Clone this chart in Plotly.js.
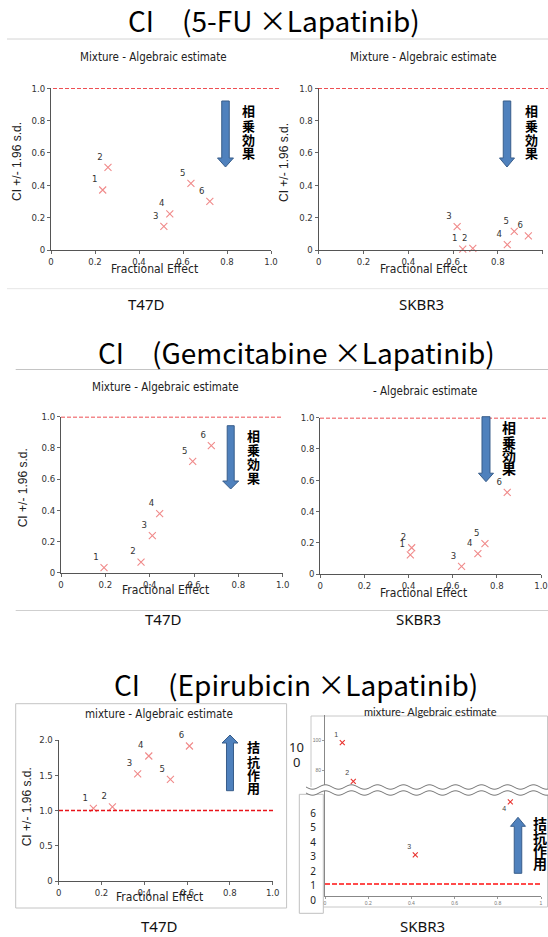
<!DOCTYPE html>
<html><head><meta charset="utf-8">
<script src="https://cdn.plot.ly/plotly-3.0.1.min.js"></script>
<style>html,body{margin:0;padding:0;background:#fff}#chart{width:548px;height:937px}</style>
</head><body><div id="chart"></div>
<script>
// ---------------- data ----------------
const pointLabels = ['1','2','3','4','5','6'];
// 5-FU x Lapatinib
const fuT47D_fa  = [0.235,0.259,0.513,0.540,0.636,0.722];
const fuT47D_ci  = [0.371,0.511,0.146,0.223,0.412,0.301];
const fuSKBR3_fa = [0.643,0.688,0.618,0.842,0.873,0.936];
const fuSKBR3_ci = [0.006,0.010,0.144,0.033,0.115,0.087];
// Gemcitabine x Lapatinib
const gemT47D_fa  = [0.194,0.361,0.412,0.445,0.594,0.678];
const gemT47D_ci  = [0.032,0.068,0.237,0.378,0.714,0.814];
const gemSKBR3_fa = [0.408,0.414,0.640,0.714,0.746,0.847];
const gemSKBR3_ci = [0.122,0.168,0.049,0.130,0.194,0.522];
// Epirubicin x Lapatinib
const epiT47D_fa  = [0.162,0.251,0.369,0.421,0.522,0.611];
const epiT47D_ci  = [1.031,1.050,1.518,1.773,1.442,1.915];
const epiSKBR3_fa = [0.080,0.131,0.418,0.858];
const epiSKBR3_ci = [98.7,72.9,3.0,6.66];
const epiSKBR3_lbl = ['1','2','3','4'];

const faTicks = [0,0.2,0.4,0.6,0.8,1.0];
const faTickText = ['0','0.2','0.4','0.6','0.8','1.0'];
const faTickTextSK = ['0','0.2','0.4','0.6','0.8','1'];
const ciTicks = [0,0.2,0.4,0.6,0.8,1.0];
const ciTickText = ['0','0.2','0.4','0.6','0.8','1.0'];
const ciTicksEpi = [0,0.5,1.0,1.5,2.0];
const ciTickTextEpi = ['0','0.5','1.0','1.5','2.0'];
const upperTicks = [80,100];
const upperTickText = ['80','100'];
const lowerTicks = [0,1,2,3,4,5,6];
const lowerTickText = ['0','1','2','3','4','5','6'];
const brokenLabel = ['10','0'];
const ciThreshold = 1.0;

const drugTitles = ['CI\u3000(5-FU \u00d7Lapatinib)','CI\u3000(Gemcitabine \u00d7Lapatinib)','CI\u3000(Epirubicin \u00d7Lapatinib)'];
const cellLines = ['T47D','SKBR3'];
const panelTitles = ['Mixture - Algebraic estimate','Mixture - Algebraic estimate','Mixture - Algebraic estimate','- Algebraic estimate','mixture - Algebraic estimate','mixture- Algebraic estimate'];
const xTitle = 'Fractional Effect';
const yTitle = 'CI +/- 1.96 s.d.';
const synergyText = ['相','乗','効','果'];
const antagText = ['拮','抗','作','用'];

// ---------------- helpers ----------------
const W = 548, H = 937;
const px = v => v / W;
const py = v => 1 - v / H;
const NARROW = 'Liberation Sans Narrow, Arial Narrow, DejaVu Sans Condensed, Liberation Sans, Arial, sans-serif';
const ARIAL = 'Liberation Sans, Arial, sans-serif';
const JP = 'Noto Sans CJK JP, sans-serif';
const PINK = '#f08a8a';

const layout = {
  width: W, height: H, margin: {l:0, r:0, t:0, b:0},
  paper_bgcolor: '#fff', plot_bgcolor: 'rgba(0,0,0,0)',
  showlegend: false, annotations: [], shapes: []
};
const data = [];

function baseAxis(extra) {
  return Object.assign({
    showgrid: false, zeroline: false, showline: true, linecolor: '#555', linewidth: 1,
    ticks: 'outside', ticklen: 3, tickcolor: '#666', tickwidth: 1,
    tickfont: {family: NARROW, size: 9.5, color: '#333'}, fixedrange: true
  }, extra);
}
function ann(text, x, y, opts) {
  layout.annotations.push(Object.assign({
    text: text, x: px(x), y: py(y), xref: 'paper', yref: 'paper',
    showarrow: false, xanchor: 'center', yanchor: 'middle', borderpad: 0
  }, opts));
}
function line(x0, y0, x1, y1, color, width, extra) {
  layout.shapes.push(Object.assign({type: 'line', xref: 'paper', yref: 'paper',
    x0: px(x0), y0: py(y0), x1: px(x1), y1: py(y1),
    line: {color: color, width: width || 1}}, extra));
}
function pathOf(pts) {
  return 'M' + pts.map(p => px(p[0]).toFixed(5) + ',' + py(p[1]).toFixed(5)).join('L') + 'Z';
}
function blockArrow(cx, tip, tail, bw, hw, hh) {
  const d = tail > tip ? 1 : -1;
  const hb = tip + d * hh;
  const pts = [[cx - bw/2, tail], [cx - bw/2, hb], [cx - hw/2, hb], [cx, tip], [cx + hw/2, hb], [cx + bw/2, hb], [cx + bw/2, tail]];
  layout.shapes.push({type: 'path', xref: 'paper', yref: 'paper', path: pathOf(pts),
    fillcolor: '#4f81bd', line: {color: '#385d8a', width: 1}, layer: 'above'});
}
function vertText(chars, x, ys, size) {
  chars.forEach((c, i) => ann('<b>' + c + '</b>', x, ys[i], {font: {family: JP, size: size, color: '#000'}}));
}

// ---------------- standard panels ----------------
const panels = [
  {n: 1, fa: fuT47D_fa, ci: fuT47D_ci, xd: [51, 271], yd: [88.3, 250], yr: [0, 1], yt: ciTicks, ytt: ciTickText,
   title: [153, 57.3], xt: [154, 269.3], yti: [17, 162], dash: [53, 280]},
  {n: 2, fa: fuSKBR3_fa, ci: fuSKBR3_ci, xd: [318.7, 542.7], yd: [88.3, 250], yr: [0, 1], yt: ciTicks, ytt: ciTickText,
   title: [423.3, 57.3], xt: [423.7, 269.3], yti: [284, 163], dash: [318, 548]},
  {n: 3, fa: gemT47D_fa, ci: gemT47D_ci, xd: [61, 282.7], yd: [416.7, 572.7], yr: [0, 1], yt: ciTicks, ytt: ciTickText,
   title: [165, 387.3], xt: [165, 590], yti: [23.3, 488], dash: [61, 282]},
  {n: 4, fa: gemSKBR3_fa, ci: gemSKBR3_ci, xd: [320.3, 541], yd: [417.7, 574], yr: [0, 1], yt: ciTicks, ytt: ciTickText,
   title: [425, 390.7], xt: [423.5, 592.7], yti: null, dash: [320, 548]},
  {n: 5, fa: epiT47D_fa, ci: epiT47D_ci, xd: [58.7, 272.7], yd: [740, 881], yr: [0, 2], yt: ciTicksEpi, ytt: ciTickTextEpi,
   title: [159.2, 714.3], xt: [159.5, 897.3], yti: [27.3, 807], dash: [59, 275]}
];

panels.forEach(p => {
  const xs = 'x' + p.n, ys = 'y' + p.n;
  layout['xaxis' + p.n] = baseAxis({domain: [px(p.xd[0]), px(p.xd[1])], anchor: ys, range: [0, 1],
    tickmode: 'array', tickvals: faTicks, ticktext: faTickText});
  layout['yaxis' + p.n] = baseAxis({domain: [py(p.yd[1]), py(p.yd[0])], anchor: xs, range: p.yr,
    tickmode: 'array', tickvals: p.yt, ticktext: p.ytt});
  data.push({type: 'scatter', mode: 'markers+text', x: p.fa, y: p.ci, text: pointLabels,
    xaxis: xs, yaxis: ys, textposition: 'top left', cliponaxis: false, hoverinfo: 'skip',
    textfont: {family: NARROW, size: 9.5, color: '#333'},
    marker: {symbol: 'x-thin', size: 7, color: PINK, line: {color: PINK, width: 1.1}}});
  layout.shapes.push({type: 'line', xref: 'paper', yref: ys, x0: px(p.dash[0]), x1: px(p.dash[1]),
    y0: ciThreshold, y1: ciThreshold, line: {color: '#e8141a', width: 1.6, dash: '4px,2px'}});
  ann(panelTitles[p.n - 1], p.title[0], p.title[1], {font: {family: NARROW, size: 11.5, color: '#222'}});
  ann(xTitle, p.xt[0], p.xt[1], {font: {family: NARROW, size: 12, color: '#222'}});
  if (p.yti) ann(yTitle, p.yti[0], p.yti[1], {textangle: -90, font: {family: ARIAL, size: 12, color: '#222'}});
});

// ---------------- broken-axis panel (SKBR3, Epirubicin) ----------------
const breakY = 790;
layout.xaxis6 = baseAxis({domain: [px(325), px(541)], anchor: 'y6', range: [0, 1], tickmode: 'array',
  tickvals: faTicks, ticktext: faTickTextSK, linecolor: '#888', ticklen: 2, tickcolor: '#999',
  tickfont: {family: ARIAL, size: 5, color: '#777'}});
layout.yaxis6 = baseAxis({domain: [py(896), py(breakY)], anchor: 'x6', range: [0.17, 7.48],
  showticklabels: false, ticks: '', linecolor: '#888'});
layout.yaxis7 = baseAxis({domain: [py(breakY), py(715)], anchor: 'x6', range: [67.1, 117.1], tickmode: 'array',
  tickvals: upperTicks, ticktext: upperTickText, linecolor: '#888', ticklen: 2, tickcolor: '#999',
  tickfont: {family: ARIAL, size: 5, color: '#777'}});
layout.xaxis7 = {domain: [px(317), px(330)], anchor: 'y8', visible: false, range: [0, 1], fixedrange: true};
layout.yaxis8 = {domain: [py(912), py(803)], anchor: 'x7', range: [-0.83, 6.71], showline: false, showgrid: false,
  zeroline: false, ticks: '', tickmode: 'array', tickvals: lowerTicks, ticktext: lowerTickText,
  tickfont: {family: 'Noto Sans, sans-serif', size: 10, color: '#222'}, fixedrange: true};

const upIdx = [], loIdx = [];
epiSKBR3_ci.forEach((v, i) => (v >= 50 ? upIdx : loIdx).push(i));
const pick = (arr, idx) => idx.map(i => arr[i]);
const skMarker = {symbol: 'x-thin', size: 5, color: '#e8322e', line: {color: '#e8322e', width: 1.1}};
data.push({type: 'scatter', mode: 'markers+text', xaxis: 'x6', yaxis: 'y7',
  x: pick(epiSKBR3_fa, upIdx), y: pick(epiSKBR3_ci, upIdx), text: pick(epiSKBR3_lbl, upIdx),
  textposition: 'top left', cliponaxis: false, hoverinfo: 'skip',
  textfont: {family: ARIAL, size: 7, color: '#444'}, marker: skMarker});
data.push({type: 'scatter', mode: 'markers+text', xaxis: 'x6', yaxis: 'y6',
  x: pick(epiSKBR3_fa, loIdx), y: pick(epiSKBR3_ci, loIdx), text: pick(epiSKBR3_lbl, loIdx),
  textposition: ['top left', 'bottom left'], cliponaxis: false, hoverinfo: 'skip',
  textfont: {family: ARIAL, size: 7, color: '#444'}, marker: skMarker});
data.push({type: 'scatter', mode: 'markers', x: [], y: [], xaxis: 'x7', yaxis: 'y8', hoverinfo: 'skip'});
layout.shapes.push({type: 'line', xref: 'paper', yref: 'y6', x0: px(325), x1: px(542),
  y0: ciThreshold, y1: ciThreshold, line: {color: '#ff1010', width: 1.6, dash: '5px,2px'}});

// panel 6 frames (chart-area borders and label box)
layout.shapes.push({type: 'path', xref: 'paper', yref: 'paper', layer: 'below',
  path: 'M' + [[311, 787], [311, 716], [547.5, 716], [547.5, 907], [323, 907]].map(p => px(p[0]) + ',' + py(p[1])).join('L'),
  line: {color: '#c8c8c8', width: 1}});
layout.shapes.push({type: 'rect', xref: 'paper', yref: 'paper', layer: 'below',
  x0: px(299.3), x1: px(323.3), y0: py(913.3), y1: py(794.3), fillcolor: '#fff', line: {color: '#c0c0c0', width: 1}});
// break symbol (wavy double line)
function wave(x0, x1, yc, amp, period, step) {
  const pts = [];
  for (let x = x0; x <= x1 + 0.01; x += step) pts.push([x, yc + amp * Math.sin((x - x0) / period * 2 * Math.PI)]);
  return pts;
}
const wTop = wave(306, 548, breakY - 3, 2.2, 26, 1);
const wBot = wave(306, 548, breakY + 3, 2.2, 26, 1);
layout.shapes.push({type: 'path', xref: 'paper', yref: 'paper', layer: 'above',
  path: pathOf(wTop.concat(wBot.slice().reverse())), fillcolor: '#fff', line: {width: 0}});
[wTop, wBot].forEach(w => layout.shapes.push({type: 'path', xref: 'paper', yref: 'paper', layer: 'above',
  path: 'M' + w.map(p => px(p[0]).toFixed(5) + ',' + py(p[1]).toFixed(5)).join('L'),
  line: {color: '#777', width: 1}}));
ann(brokenLabel[0], 296.7, 746.7, {font: {family: 'Noto Sans, sans-serif', size: 13, color: '#222'}});
ann(brokenLabel[1], 296.3, 761.7, {font: {family: 'Noto Sans, sans-serif', size: 13, color: '#222'}});
ann(panelTitles[5], 430, 711.7, {font: {family: 'Lato, sans-serif', size: 11, color: '#222'}});

// ---------------- arrows & vertical texts ----------------
blockArrow(225.5, 167, 101, 7.5, 16, 9);
blockArrow(507, 167, 101, 7.5, 15, 9);
blockArrow(230.7, 489, 425.7, 7, 16, 8);
blockArrow(486, 481.7, 416.7, 8, 15, 8.5);
blockArrow(230, 735, 790.7, 7, 16, 8);
blockArrow(518, 817.3, 873.3, 7.5, 15, 9);
vertText(synergyText, 248, [110.7, 125.5, 139.3, 152.7], 13);
vertText(synergyText, 531, [110.7, 125.5, 139.3, 152.7], 13);
vertText(synergyText, 253.3, [435, 449, 463.3, 477.3], 13);
vertText(synergyText, 508.5, [427.3, 441.7, 455, 468.3], 14);
vertText(antagText, 253.3, [746, 761, 774, 787.3], 13);
vertText(antagText, 540, [823.3, 836.7, 850, 862.7], 14);

// ---------------- headings, cell-line labels, rules ----------------
const titleFont = {family: JP, size: 28, color: '#000'};
ann(drugTitles[0], 274, 20, {font: titleFont});
ann(drugTitles[1], 296, 352, {font: titleFont});
ann(drugTitles[2], 295.5, 684, {font: titleFont});
const cellFont = {family: 'Noto Sans, sans-serif', size: 15, color: '#111'};
ann(cellLines[0], 146, 303.6, {font: cellFont});
ann(cellLines[1], 421, 303.6, {font: cellFont});
ann(cellLines[0], 163, 619, {font: cellFont});
ann(cellLines[1], 418.6, 619, {font: cellFont});
ann(cellLines[0], 159, 926, {font: cellFont});
ann(cellLines[1], 422, 926, {font: cellFont});

line(7, 39, 548, 39, '#d4d4d4', 1, {layer: 'below'});
line(7, 288.7, 548, 288.7, '#e6e6e6', 1, {layer: 'below'});
line(15.7, 369.5, 548, 369.5, '#c4c4c4', 1, {layer: 'below'});
line(15.7, 610.5, 548, 610.5, '#cfcfcf', 1, {layer: 'below'});
layout.shapes.push({type: 'rect', xref: 'paper', yref: 'paper', layer: 'below',
  x0: px(15.7), x1: px(286.6), y0: py(908), y1: py(703.7), line: {color: '#c4c4c4', width: 1}});

Plotly.newPlot('chart', data, layout, {staticPlot: true, displayModeBar: false});
</script></body></html>
